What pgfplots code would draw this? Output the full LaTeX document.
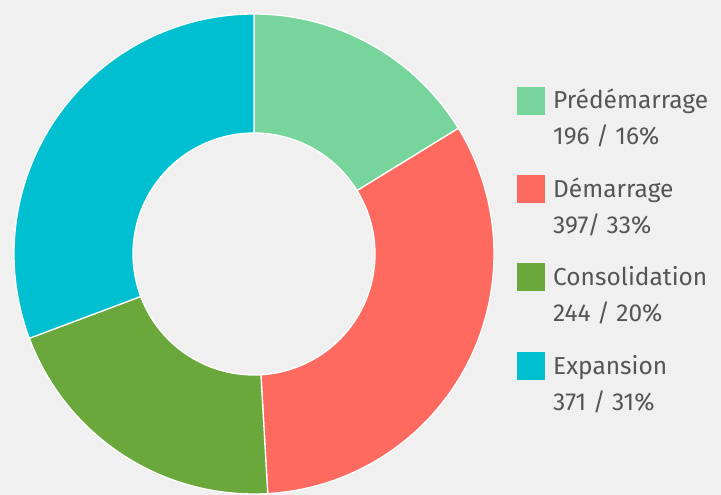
\documentclass[border=0pt]{standalone}
\usepackage{pgfplots}
\pgfplotsset{compat=1.18}
\usepackage{fontspec}
\setmainfont{Fira Sans}
\definecolor{bg}{HTML}{F0F0F0}
\definecolor{cA}{HTML}{77D59B}
\definecolor{cB}{HTML}{FF6A60}
\definecolor{cC}{HTML}{6BA83B}
\definecolor{cD}{HTML}{00BFD0}
\definecolor{txt}{HTML}{555555}
% data
\def\vA{196}\def\vB{397}\def\vC{244}\def\vD{371}
\pgfmathsetmacro{\tot}{\vA+\vB+\vC+\vD}
\pgfmathsetmacro{\aA}{\vA/\tot*360}
\pgfmathsetmacro{\aB}{(\vA+\vB)/\tot*360}
\pgfmathsetmacro{\aC}{(\vA+\vB+\vC)/\tot*360}
\begin{document}
\begin{tikzpicture}
\fill[bg] (0,0) rectangle (721pt,495pt);
\begin{axis}[
  at={(0,0)}, anchor=south west,
  scale only axis, width=721pt, height=495pt,
  xmin=0, xmax=721, ymin=0, ymax=495,
  hide axis, clip=false,
  every axis plot/.append style={line join=round},
]
\addplot[fill=cA, draw=white, line width=1.3pt, domain=0:\aA, samples=80, variable=\t]
  ({254+240*sin(\t)},{241+240*cos(\t)}) -- (axis cs:254,241) -- cycle;
\addplot[fill=cB, draw=white, line width=1.3pt, domain=\aA:\aB, samples=120, variable=\t]
  ({254+240*sin(\t)},{241+240*cos(\t)}) -- (axis cs:254,241) -- cycle;
\addplot[fill=cC, draw=white, line width=1.3pt, domain=\aB:\aC, samples=100, variable=\t]
  ({254+240*sin(\t)},{241+240*cos(\t)}) -- (axis cs:254,241) -- cycle;
\addplot[fill=cD, draw=white, line width=1.3pt, domain=\aC:360, samples=120, variable=\t]
  ({254+240*sin(\t)},{241+240*cos(\t)}) -- (axis cs:254,241) -- cycle;
\addplot[fill=bg, draw=white, line width=1.3pt, domain=0:360, samples=200, variable=\t]
  ({254+121*sin(\t)},{241+121*cos(\t)}) -- cycle;
% legend squares
\addplot[fill=cA, draw=none] coordinates {(517,408) (545,408) (545,380) (517,380)} -- cycle;
\addplot[fill=cB, draw=none] coordinates {(517,320) (545,320) (545,292) (517,292)} -- cycle;
\addplot[fill=cC, draw=none] coordinates {(517,232) (545,232) (545,204) (517,204)} -- cycle;
\addplot[fill=cD, draw=none] coordinates {(517,143) (545,143) (545,115) (517,115)} -- cycle;
\begin{scope}[every node/.style={anchor=base west, inner sep=0pt, text=txt, font=\fontsize{24.5}{29}\selectfont}]
\node at (axis cs:553,386) {Prédémarrage};
\node at (axis cs:553,350) {196 / 16\%};
\node at (axis cs:553,297) {Démarrage};
\node at (axis cs:553,261) {397/ 33\%};
\node at (axis cs:553,209) {Consolidation};
\node at (axis cs:553,173) {244 / 20\%};
\node at (axis cs:553,120) {Expansion};
\node at (axis cs:553,84) {371 / 31\%};
\end{scope}
\end{axis}
\end{tikzpicture}
\end{document}
